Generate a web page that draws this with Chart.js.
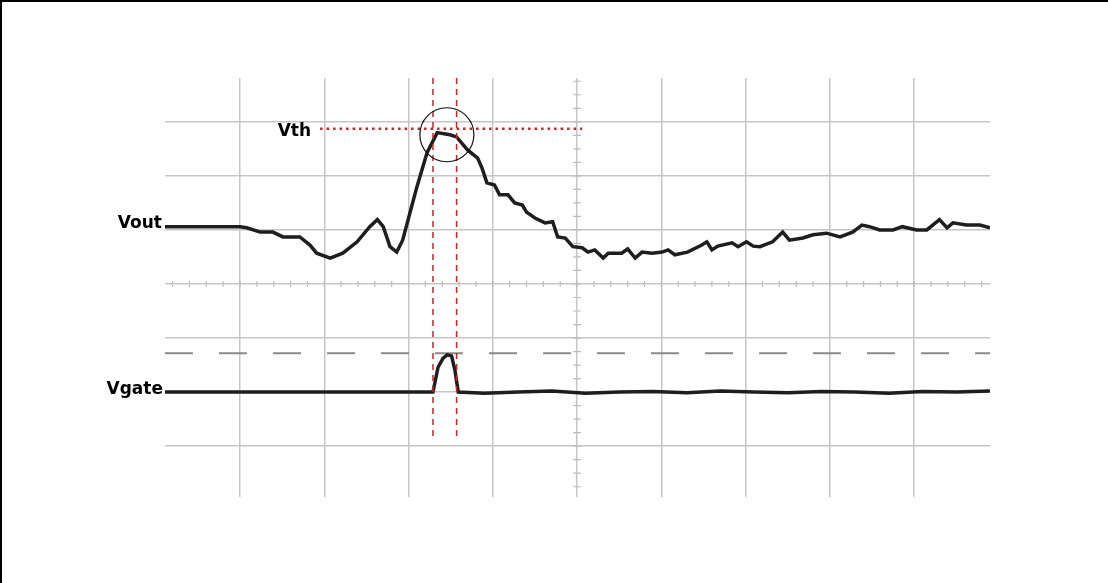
<!DOCTYPE html>
<html>
<head>
<meta charset="utf-8">
<script src="https://cdn.jsdelivr.net/npm/chart.js@4/dist/chart.umd.min.js"></script>
<style>
    html, body { margin: 0; padding: 0; background: #ffffff; }
    #wrap { position: relative; width: 1108px; height: 583px; overflow: hidden; }
    #frame { position: absolute; left: 0; top: 0; width: 1108px; height: 583px; box-sizing: border-box;
             border-top: 2px solid #000; border-left: 2px solid #000; pointer-events: none; }
</style>
</head>
<body>
<div id="wrap">
    <canvas id="scope" width="1108" height="583"></canvas>
    <div id="frame"></div>
</div>
<script>
    // Screen in divisions: x 0..8 are the major verticals, y -3..3 the major horizontals
    var xMin = -0.89, xMax = 8.9;
    var yMin = -3.94, yMax = 3.81;

    // Vout trace (x in div, y in div)
    var voutX = [-0.89, 0, 0.08, 0.24, 0.39, 0.51, 0.71, 0.83, 0.91, 1.07, 1.22, 1.39, 1.54, 1.63, 1.70, 1.78, 1.86, 1.93,
                 2.10, 2.22, 2.34, 2.49, 2.57, 2.70, 2.82, 2.87, 2.93, 3.02, 3.08, 3.18, 3.26, 3.35, 3.40, 3.50, 3.62,
                 3.71, 3.77, 3.86, 3.95, 4.06, 4.13, 4.21, 4.31, 4.37, 4.53, 4.60, 4.69, 4.77, 4.89, 5.01, 5.08, 5.16,
                 5.31, 5.48, 5.54, 5.60, 5.67, 5.84, 5.91, 6.01, 6.09, 6.17, 6.32, 6.44, 6.52, 6.68, 6.80,
                 6.96, 7.12, 7.27, 7.38, 7.47, 7.59, 7.75, 7.86, 8.03, 8.15, 8.30, 8.39, 8.46, 8.62, 8.78, 8.90];
    var voutY = [1.06, 1.06, 1.04, 0.96, 0.96, 0.87, 0.87, 0.72, 0.57, 0.48, 0.57, 0.78, 1.06, 1.19, 1.06, 0.69, 0.59, 0.81,
                 1.80, 2.43, 2.80, 2.76, 2.72, 2.48, 2.33, 2.15, 1.87, 1.83, 1.65, 1.65, 1.50, 1.46, 1.33, 1.22, 1.13,
                 1.15, 0.87, 0.85, 0.69, 0.67, 0.59, 0.63, 0.48, 0.57, 0.57, 0.65, 0.48, 0.59, 0.57, 0.59, 0.63, 0.54,
                 0.59, 0.72, 0.78, 0.63, 0.70, 0.76, 0.69, 0.78, 0.70, 0.69, 0.78, 0.96, 0.81, 0.85, 0.91,
                 0.94, 0.87, 0.96, 1.09, 1.06, 1.00, 1.00, 1.06, 1.00, 1.00, 1.19, 1.04, 1.13, 1.09, 1.09, 1.04];

    // Vgate trace
    var vgateX = [-0.89, 2.29, 2.35, 2.41, 2.46, 2.51, 2.55, 2.59, 2.9, 3.3, 3.7, 4.1, 4.5, 4.9, 5.3, 5.7, 6.1, 6.5, 6.9, 7.3, 7.7, 8.1, 8.5, 8.9];
    var vgateY = [-2.0, -2.0, -1.54, -1.37, -1.31, -1.33, -1.59, -2.0, -2.02, -2.0, -1.98, -2.02, -2.0, -1.99, -2.01, -1.98, -2.0, -2.01, -1.99, -2.0, -2.02, -1.99, -2.0, -1.98];

    // Markers
    var gateHighLevel = -1.28;
    var vthLevel = 2.87;
    var vthSpan = [0.95, 4.06];
    var cursorX = [2.29, 2.57];
    var cursorSpan = [3.81, -2.89];
    var circleCentre = [2.455, 2.76];

    function pts(xs, ys) {
        return xs.map(function(x, i) { return { x: x, y: ys[i] }; });
    }

    // Minor ticks on the centre axes, circle and channel labels
    var scopeDecor = {
        id: 'scopeDecor',
        beforeDatasetsDraw: function(chart) {
            var ctx = chart.ctx, xs = chart.scales.x, ys = chart.scales.y;
            var cx = xs.getPixelForValue(4), cy = ys.getPixelForValue(0);
            ctx.save();
            ctx.strokeStyle = '#bdbdbd';
            ctx.lineWidth = 1.2;
            ctx.beginPath();
            for (var v = -3.75; v <= 3.8; v += 0.25) {
                var py = ys.getPixelForValue(v);
                ctx.moveTo(cx - 4, py);
                ctx.lineTo(cx + 4, py);
            }
            for (var u = -0.8; u <= 8.9; u += 0.2) {
                var px = xs.getPixelForValue(u);
                ctx.moveTo(px, cy - 3);
                ctx.lineTo(px, cy + 3);
            }
            ctx.stroke();
            ctx.restore();
        },
        afterDatasetsDraw: function(chart) {
            var ctx = chart.ctx, xs = chart.scales.x, ys = chart.scales.y;
            ctx.save();
            ctx.strokeStyle = '#111';
            ctx.lineWidth = 1.2;
            ctx.beginPath();
            ctx.arc(xs.getPixelForValue(circleCentre[0]), ys.getPixelForValue(circleCentre[1]), 27, 0, Math.PI * 2);
            ctx.stroke();

            ctx.fillStyle = '#000';
            ctx.font = 'bold 17px "DejaVu Sans"';
            ctx.textBaseline = 'middle';
            ctx.textAlign = 'right';
            ctx.fillText('Vout', xs.getPixelForValue(xMin) - 3, ys.getPixelForValue(voutY[0]) - 3);
            ctx.fillText('Vgate', xs.getPixelForValue(xMin) - 2, ys.getPixelForValue(vgateY[0]) - 3);
            ctx.fillText('Vth', xs.getPixelForValue(vthSpan[0]) - 9, ys.getPixelForValue(vthLevel) + 3);
            ctx.restore();
        }
    };

    var traceStyle = { borderColor: '#1e1e1e', borderWidth: 3.5, pointRadius: 0, tension: 0, fill: false };

    var datasets = [
        Object.assign({ label: 'Vout', data: pts(voutX, voutY), order: 2 }, traceStyle),
        Object.assign({ label: 'Vgate', data: pts(vgateX, vgateY), order: 2 }, traceStyle),
        {
            label: 'gate high', data: pts([xMin, xMax], [gateHighLevel, gateHighLevel]),
            borderColor: '#8a8a8a', borderWidth: 2, borderDash: [28, 26], pointRadius: 0, order: 3
        },
        {
            label: 'Vth', data: pts(vthSpan, [vthLevel, vthLevel]),
            borderColor: '#c0282a', borderWidth: 2.5, borderDash: [2.5, 4], pointRadius: 0, order: 1
        }
    ];
    cursorX.forEach(function(cx, i) {
        datasets.push({
            label: 'cursor ' + (i + 1), data: pts([cx, cx], cursorSpan),
            borderColor: '#c0282a', borderWidth: 1.5, borderDash: [6, 5], pointRadius: 0, order: 1
        });
    });

    var gridStyle = { color: '#c6c6c6', lineWidth: 1.5, drawTicks: false };

    new Chart(document.getElementById('scope').getContext('2d'), {
        type: 'line',
        data: { datasets: datasets },
        options: {
            responsive: false,
            animation: false,
            layout: { padding: { left: 165, right: 118, top: 78, bottom: 86 } },
            plugins: { legend: { display: false }, tooltip: { enabled: false } },
            scales: {
                x: {
                    type: 'linear', min: xMin, max: xMax,
                    grid: gridStyle, border: { display: false },
                    ticks: { display: false, stepSize: 1, includeBounds: false }
                },
                y: {
                    type: 'linear', min: yMin, max: yMax,
                    grid: gridStyle, border: { display: false },
                    ticks: { display: false, stepSize: 1, includeBounds: false }
                }
            }
        },
        plugins: [scopeDecor]
    });
</script>
</body>
</html>
